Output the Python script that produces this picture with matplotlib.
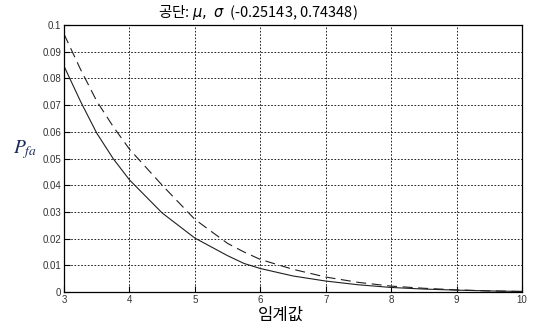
import matplotlib
matplotlib.use("Agg")
import matplotlib.pyplot as plt

# 임계값 (threshold)
x = [3.0, 3.25, 3.5, 3.75, 4.0, 4.5, 5.0, 5.5, 5.75, 6.0, 6.5, 7.0, 7.5, 8.0, 8.5, 9.0, 9.5, 10.0]
# 실선
pfa_solid = [0.0846, 0.0715, 0.0595, 0.0500, 0.0420, 0.0296, 0.0202, 0.0136, 0.0107, 0.0088, 0.0060,
             0.0041, 0.0027, 0.0017, 0.0011, 0.0007, 0.0004, 0.0002]
# 점선
pfa_dash = [0.0966, 0.0835, 0.0715, 0.0620, 0.0535, 0.0400, 0.0272, 0.0182, 0.0150, 0.0122, 0.0085,
            0.0056, 0.0036, 0.0022, 0.0014, 0.0008, 0.0004, 0.0002]

xticks = [3, 4, 5, 6, 7, 8, 9, 10]
yticks = [0, 0.01, 0.02, 0.03, 0.04, 0.05, 0.06, 0.07, 0.08, 0.09, 0.1]
ytick_labels = ['0', '0.01', '0.02', '0.03', '0.04', '0.05', '0.06', '0.07', '0.08', '0.09', '0.1']

fig = plt.figure(figsize=(5.34, 3.26), dpi=100)
ax = fig.add_axes([0.1199, 0.1043, 0.8576, 0.8190])

ax.plot(x, pfa_solid, color='#202020', lw=0.8)
ax.plot(x, pfa_dash, color='#202020', lw=0.8, dashes=(9, 5))

ax.set_xlim(3, 10)
ax.set_ylim(0, 0.1)
ax.set_xticks(xticks)
ax.set_yticks(yticks)
ax.set_yticklabels(ytick_labels)
ax.grid(True, color='black', linestyle=(0, (2, 2)), linewidth=0.6)
ax.tick_params(direction='in', length=4, width=0.8, labelsize=7, labelcolor='#333333', pad=2)
for lbl in ax.get_xticklabels() + ax.get_yticklabels():
    lbl.set_family('Liberation Sans')
for s in ax.spines.values():
    s.set_linewidth(0.9)

# 제목
fig.text(258 / 534, 1 - 13 / 326, r'공단: $\mu,\ \sigma$  (-0.25143, 0.74348)',
         ha='center', va='center', fontsize=10.5,
         family=['Noto Sans CJK KR', 'DejaVu Sans'])

# 축 이름
fig.text(281 / 534, 1 - 315 / 326, '임계값', ha='center', va='center', fontsize=12,
         family=['Noto Sans CJK KR', 'DejaVu Sans'])
fig.text(25 / 534, 1 - 150 / 326, r'$P_{fa}$', ha='center', va='center', fontsize=14,
         color='#1a2a5a', math_fontfamily='stix')

fig.savefig('out.png', dpi=100)
